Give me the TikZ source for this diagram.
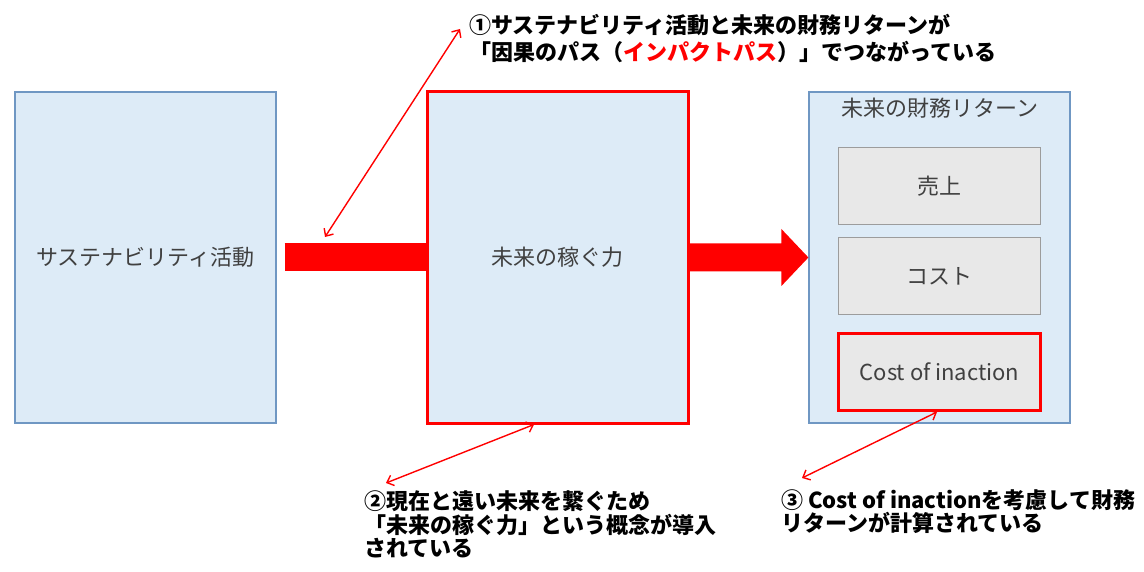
\documentclass[tikz,border=0pt]{standalone}
\usepackage{fontspec}
\setmainfont{Noto Sans CJK JP}
\usetikzlibrary{arrows.meta,calc}
\definecolor{boxblue}{HTML}{DDEBF7}
\definecolor{boxline}{HTML}{6F97C3}
\definecolor{boxgray}{HTML}{E8E8E8}
\definecolor{grayline}{HTML}{9C9C9C}
\definecolor{txt}{HTML}{404040}
\definecolor{myred}{HTML}{FF0000}
\begin{document}
\begin{tikzpicture}[x=1pt,y=-1pt,
  lbl/.style={font=\fontsize{22}{26}\selectfont, text=txt},
  bluebox/.style={draw=boxline, line width=1.2pt, fill=boxblue, minimum width=261pt, minimum height=331pt, inner sep=0pt, lbl},
  redbig/.style={bluebox, draw=myred, line width=3pt},
  graybox/.style={draw=grayline, line width=1pt, fill=boxgray, minimum width=202pt, minimum height=77pt, inner sep=0pt, lbl},
  redgray/.style={graybox, draw=myred, line width=3pt},
  note/.style={font=\fontsize{22}{26}\selectfont\bfseries, text=black, anchor=base west, inner sep=0pt},
  callout/.style={draw=myred, line width=1.4pt, {Straight Barb[length=6pt,width=11pt]}-{Straight Barb[length=6pt,width=11pt]}},
  fatbar/.style={draw=myred, line width=28pt},
]
\useasboundingbox (0,0) rectangle (1144,572);
\fill[white] (0,0) rectangle (1144,572);
% main boxes
\node[bluebox] (sus) at (145.5,257.5) {サステナビリティ活動};
\node[redbig] (mid) at (557.5,257.5) {未来の稼ぐ力};
\node[bluebox] (ret) at (939.5,257.5) {};
\node[lbl] (rett) at (940,108) {未来の財務リターン};
\node[graybox] (uri) at (939,186.5) {売上};
\node[graybox] (cost) at (939,276) {コスト};
\node[redgray] (coi) at (939.5,372) {Cost of inaction};
% fat connectors
\draw[fatbar] ([xshift=8pt]sus.east) -- (mid.west);
\fill[myred] ([yshift=14pt]mid.east) -- ([xshift=-27pt,yshift=14pt]ret.west)
  -- ([xshift=-27pt,yshift=28.5pt]ret.west) -- (ret.west)
  -- ([xshift=-27pt,yshift=-28.5pt]ret.west) -- ([xshift=-27pt,yshift=-14pt]ret.west)
  -- ([yshift=-14pt]mid.east) -- cycle;
% annotations
\node[note] (t1a) at (469,33.4) {①サステナビリティ活動と未来の財務リターンが};
\node[note] (t1b) at (469,60.4) {「因果のパス（\textcolor{myred}{インパクトパス}）」でつながっている};
\node[note] (t2a) at (364,509) {②現在と遠い未来を繋ぐため};
\node[note] (t2b) at (364,533) {「未来の稼ぐ力」という概念が導入};
\node[note] (t2c) at (364,556) {されている};
\node[note] (t3a) at (781,508) {③ Cost of inactionを考慮して財務};
\node[note] (t3b) at (781,531) {リターンが計算されている};
% callout arrows
\coordinate (c1a) at (325,237);
\coordinate (c1b) at (460,29);
\coordinate (c2b) at (386,483);
\coordinate (c3b) at (802,478);
\draw[callout] (c1a) -- (c1b);
\draw[callout] ([xshift=-23.5pt]mid.south) -- (c2b);
\draw[callout] ([xshift=-2.5pt]coi.south) -- (c3b);
\end{tikzpicture}
\end{document}
